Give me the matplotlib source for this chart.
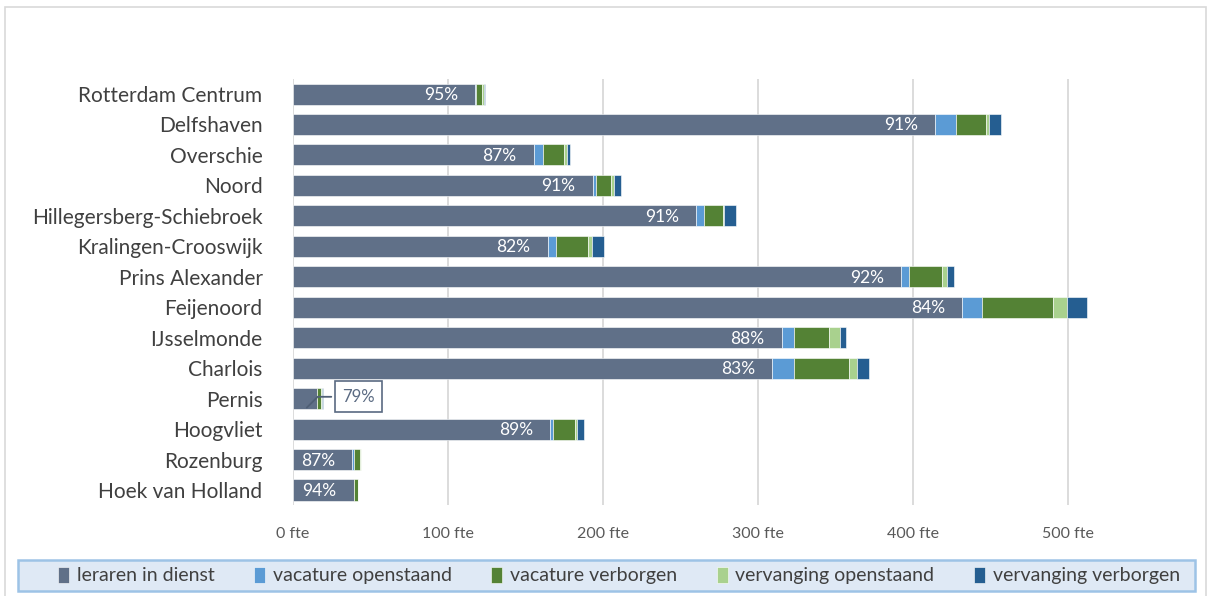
import numpy as np
import matplotlib.pyplot as plt
from matplotlib.patches import Rectangle

plt.rcParams['font.family'] = ['Lato', 'DejaVu Sans']

wijken = ['Rotterdam Centrum', 'Delfshaven', 'Overschie', 'Noord',
          'Hillegersberg-Schiebroek', 'Kralingen-Crooswijk', 'Prins Alexander',
          'Feijenoord', 'IJsselmonde', 'Charlois', 'Pernis', 'Hoogvliet',
          'Rozenburg', 'Hoek van Holland']

# fte per wijk
leraren = [117.3, 414.0, 155.1, 193.1, 260.0, 164.1, 392.3, 431.6, 315.0, 309.1, 15.2, 165.8, 38.0, 39.1]
vac_open = [0.9, 13.5, 6.4, 2.2, 4.7, 5.6, 4.8, 12.9, 8.0, 13.8, 0.4, 2.1, 1.3, 0.2]
vac_verb = [3.9, 19.3, 13.3, 9.9, 12.7, 20.6, 21.5, 45.6, 22.8, 35.6, 2.6, 14.2, 4.1, 2.3]
verv_open = [1.0, 2.1, 2.1, 1.7, 0.6, 2.6, 3.0, 8.8, 6.9, 5.2, 0.2, 1.1, 0.2, 0.0]
verv_verb = [0.5, 7.4, 1.7, 4.3, 7.5, 7.9, 4.7, 12.9, 4.1, 7.5, 0.8, 4.1, 0.2, 0.0]

reeksen = ['leraren in dienst', 'vacature openstaand', 'vacature verborgen',
           'vervanging openstaand', 'vervanging verborgen']
kleuren = ['#607088', '#5b9bd5', '#548235', '#a9d18e', '#255e91']

x_ticks = [0, 100, 200, 300, 400, 500]

fig = plt.figure(figsize=(12.12, 5.96), dpi=100)
ax = fig.add_axes([0.2418, 0.1523, 0.7037, 0.7155])

# onderste categorie onderaan
wijken_r = wijken[::-1]
data = [np.array(s[::-1]) for s in [leraren, vac_open, vac_verb, verv_open, verv_verb]]
y = np.arange(len(wijken_r))

links = np.zeros(len(y))
for s, naam, kl in zip(data, reeksen, kleuren):
    ax.barh(y, s, left=links, height=0.69, color=kl, label=naam,
            edgecolor='white', linewidth=0.4, zorder=3)
    links = links + s
totaal = links

pct = np.round(data[0] / totaal * 100).astype(int)
for i in range(len(y)):
    if wijken_r[i] == 'Pernis':
        # label buiten de korte balk, met verbindingslijn
        ax.annotate(f'{pct[i]}%', xy=(data[0][i] / 2, y[i] - 0.36),
                    xytext=(totaal[i] + 23, y[i] + 0.06), textcoords='data',
                    ha='center', va='center', fontsize=12, color='#5a6a82',
                    bbox=dict(boxstyle='square,pad=0.45', fc='white', ec='#5a6a82', lw=1.2),
                    arrowprops=dict(arrowstyle='-', color='#4f5f75', lw=1.3,
                                    connectionstyle='angle,angleA=0,angleB=45,rad=0'),
                    zorder=5)
    else:
        ax.annotate(f'{pct[i]}%', xy=(data[0][i], y[i]), xytext=(-17, -1),
                    textcoords='offset pixels', ha='right', va='center',
                    fontsize=12.5, color='white', zorder=4)

ax.set_xlim(0, 550)
ax.set_ylim(-0.5, len(y) - 0.5)
ax.set_yticks(y)
ax.set_yticklabels(wijken_r, fontsize=15, color='#404040')
ax.set_xticks(x_ticks)
ax.set_xticklabels([f'{v} fte' for v in x_ticks], fontsize=11.5, color='#595959')
ax.tick_params(axis='both', length=0)
ax.tick_params(axis='y', pad=22)
ax.tick_params(axis='x', pad=16)
ax.grid(axis='x', color='#d9d9d9', lw=1.3, zorder=0)
for sp in ax.spines.values():
    sp.set_visible(False)

leg = fig.legend(loc='center', bbox_to_anchor=(0.5107, 0.0345), ncol=5,
                 fontsize=14, frameon=True, fancybox=False, handlelength=0.55,
                 handleheight=0.9, handletextpad=0.4, columnspacing=2.05,
                 borderpad=0.35, borderaxespad=0, labelcolor='#404040')
leg.get_frame().set_facecolor('#dfe9f5')
leg.get_frame().set_edgecolor('#9dc3e6')
leg.get_frame().set_linewidth(1.8)

fig.canvas.draw()
# kader van de legenda over de volle breedte
bb = leg.get_window_extent()
leg.get_frame().set_visible(False)
fig.patches.append(Rectangle((18, bb.y0), 1177, bb.height, transform=None,
                             fc='#dfe9f5', ec='#9dc3e6', lw=1.8, zorder=-1))

fig.patches.append(Rectangle((5 / 1212, -0.01), 1201 / 1212, 1 - 7 / 596 + 0.01,
                             transform=fig.transFigure, fill=False,
                             ec='#d9d9d9', lw=1.2))

fig.savefig('out.png', dpi=100)
